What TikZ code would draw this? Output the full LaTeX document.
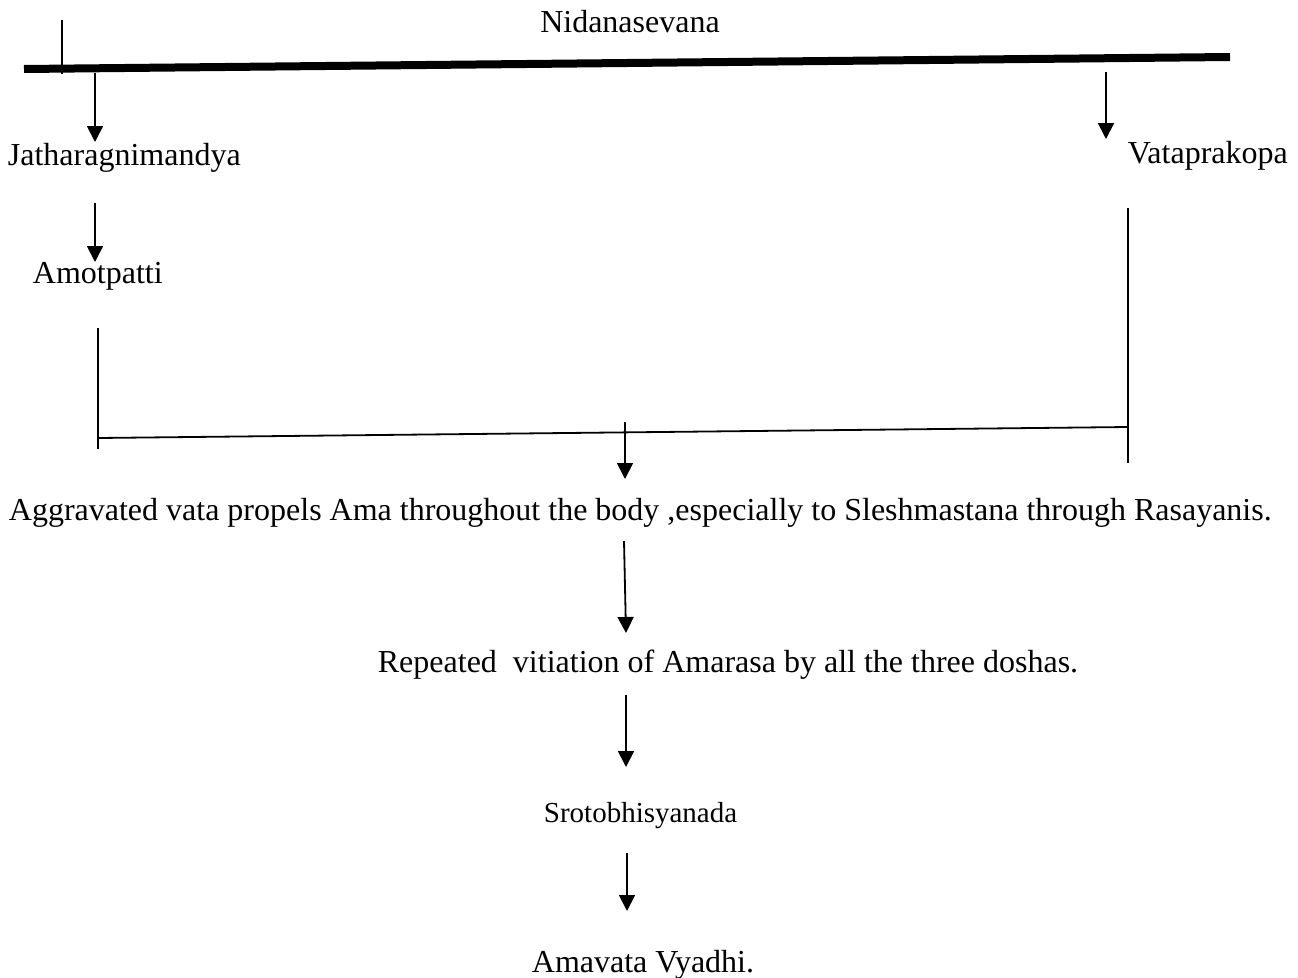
\documentclass[tikz,border=0pt]{standalone}
\usepackage{fontspec}
\setmainfont{Liberation Serif}
\usetikzlibrary{arrows.meta}
\begin{document}
\begin{tikzpicture}[x=1pt,y=-1pt, line width=1.8pt,
  lbl/.style={inner sep=0pt, font=\fontsize{32}{38}\selectfont},
  lblsmall/.style={inner sep=0pt, font=\fontsize{29}{35}\selectfont},
  arr/.style={-{Triangle[width=16pt,length=16pt]}},
  thickbar/.style={line width=8pt}]
\useasboundingbox (0,0) rectangle (1298,977);
% texts
\node[lbl, anchor=base] (nid) at (630,32) {Nidanasevana};
\node[lbl, anchor=base west] (jat) at (7,165) {Jatharagnimandya};
\node[lbl, anchor=base west] (vat) at (1127,163) {Vataprakopa};
\node[lbl, anchor=base west] (amo) at (32,283) {Amotpatti};
\node[lbl, anchor=base west] (agg) at (8,520) {Aggravated vata propels Ama throughout the body ,especially to Sleshmastana through Rasayanis.};
\node[lbl, anchor=base west] (rep) at (377,672) {Repeated\ \ vitiation of Amarasa by all the three doshas.};
\node[lblsmall, anchor=base west] (sro) at (543,822) {Srotobhisyanada};
\node[lbl, anchor=base west] (ama) at (531,972) {Amavata Vyadhi.};
% coordinates
\coordinate (tick1) at (62,20);
\coordinate (tick2) at (62,74);
\coordinate (barL) at (24,69);
\coordinate (barR) at (1230,57);
\coordinate (a1s) at (95,73);
\coordinate (a1e) at (95,142);
\coordinate (a2s) at (1106,72);
\coordinate (a2e) at (1106,139);
\coordinate (a3s) at (95,203);
\coordinate (a3e) at (95,262);
\coordinate (lvT) at (98,328);
\coordinate (lvB) at (98,449);
\coordinate (hL) at (98,438);
\coordinate (hR) at (1128,427);
\coordinate (rvT) at (1128,208);
\coordinate (rvB) at (1128,463);
\coordinate (a4s) at (625,422);
\coordinate (a4e) at (625,479);
\coordinate (a5s) at (624,541);
\coordinate (a5e) at (626,633);
\coordinate (a6s) at (626,695);
\coordinate (a6e) at (626,767);
\coordinate (a7s) at (627,853);
\coordinate (a7e) at (627,911);
% lines
\draw (tick1) -- (tick2);
\draw[thickbar] (barL) -- (barR);
\draw[arr] (a1s) -- (a1e);
\draw[arr] (a2s) -- (a2e);
\draw[arr] (a3s) -- (a3e);
\draw (lvT) -- (lvB);
\draw (hL) -- (hR);
\draw (rvT) -- (rvB);
\draw[arr] (a4s) -- (a4e);
\draw[arr] (a5s) -- (a5e);
\draw[arr] (a6s) -- (a6e);
\draw[arr] (a7s) -- (a7e);
\end{tikzpicture}
\end{document}
